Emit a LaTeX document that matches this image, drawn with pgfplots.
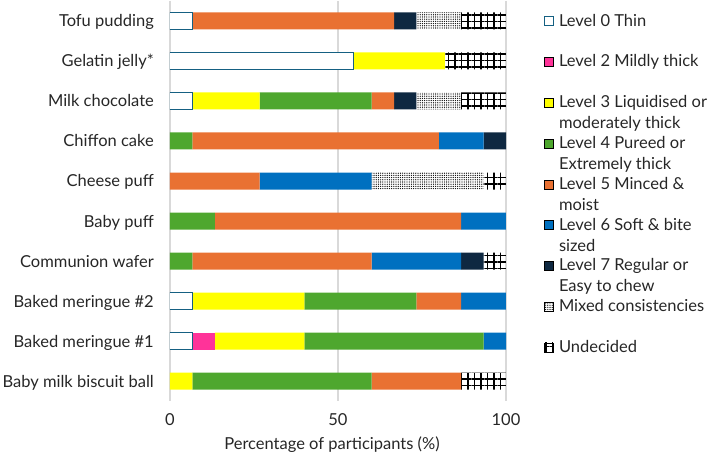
\documentclass[border=0pt]{standalone}
\usepackage{fontspec}
\setmainfont{Lato}
\usepackage{pgfplots}
\usepackage{pgfplotstable}
\pgfplotsset{compat=1.18}
\usetikzlibrary{patterns.meta}

\definecolor{lzero}{HTML}{156082}
\definecolor{ltwo}{HTML}{FF3399}
\definecolor{lthree}{HTML}{FFFF00}
\definecolor{lfour}{HTML}{4EA72E}
\definecolor{lfive}{HTML}{E97132}
\definecolor{lsix}{HTML}{0070C0}
\definecolor{lseven}{HTML}{0E2841}
\definecolor{gridc}{HTML}{D9D9D9}
\definecolor{txt}{HTML}{262626}

\newcommand\myfont{\fontsize{16.5bp}{20bp}\selectfont}
\newcommand\entt[2]{\parbox[t]{170bp}{\baselineskip=21bp #1\newline #2}}

\pgfplotstableread{
y L0 L2 L3 L4 L5 L6 L7 Mix Und
0 6.67 0 0 0 60 0 6.67 13.33 13.33
1 54.55 0 27.27 0 0 0 0 0 18.18
2 6.67 0 20 33.33 6.67 0 6.67 13.33 13.33
3 0 0 0 6.67 73.33 13.33 6.67 0 0
4 0 0 0 0 26.67 33.33 0 33.33 6.67
5 0 0 0 13.33 73.33 13.33 0 0 0
6 0 0 0 6.67 53.33 26.67 6.67 0 6.67
7 6.67 0 33.33 33.33 13.33 13.33 0 0 0
8 6.67 6.67 26.67 53.33 0 6.67 0 0 0
9 0 0 6.67 53.33 26.67 0 0 0 13.33
}\data

\begin{document}
\begin{tikzpicture}
\path[use as bounding box] (-170bp,-56bp) rectangle (539bp,401bp);
\begin{axis}[
  scale only axis, width=336bp, height=400bp,
  xbar stacked, bar width=17bp,
  xmin=0, xmax=100, ymin=-0.5, ymax=9.5, y dir=reverse,
  ytick={0,...,9},
  yticklabels={Tofu pudding, Gelatin jelly*, Milk chocolate, Chiffon cake, Cheese puff, Baby puff, Communion wafer, Baked meringue \#2, Baked meringue \#1, Baby milk biscuit ball},
  xtick={0,50,100},
  axis line style={draw=none}, major tick length=0pt,
  xmajorgrids, grid style={gridc, line width=1.2bp},
  tick label style={font=\myfont, text=txt},
  /pgf/number format/assume math mode=true,
  yticklabel style={inner sep=0pt, anchor=base east, xshift=-16bp, yshift=-6bp},
  xticklabel style={inner sep=0pt, anchor=north, yshift=-12bp},
  xlabel={Percentage of participants (\%)},
  xlabel style={font=\myfont, text=txt, inner sep=0pt, at={(axis description cs:0.5,0)}, anchor=base, yshift=-48bp, xshift=-6bp},
  legend style={at={(1,1)}, anchor=north west, xshift=38bp, yshift=-13bp, draw=none, fill=none, inner sep=0pt, outer sep=0pt, row sep=28.8bp, column sep=5bp, font=\myfont, text=txt, cells={anchor=base west}, nodes={inner sep=0pt, text height=12bp, text depth=0pt}},
  myleg/.style={legend image code/.code={\draw[##1] (0.5bp,0.5bp) rectangle (9.5bp,9.5bp);}},
]
\addplot[fill=white, draw=lzero, line width=1bp, myleg] table[x=L0,y=y]{\data};
\addlegendentry{Level 0 Thin}
\addplot[fill=ltwo, draw=none, myleg] table[x=L2,y=y]{\data};
\addlegendentry{Level 2 Mildly thick}
\addplot[fill=lthree, draw=none, myleg] table[x=L3,y=y]{\data};
\addlegendentry{\entt{Level 3 Liquidised or}{moderately thick}}
\addplot[fill=lfour, draw=none, myleg] table[x=L4,y=y]{\data};
\addlegendentry{\entt{Level 4 Pureed or}{Extremely thick}}
\addplot[fill=lfive, draw=none, myleg] table[x=L5,y=y]{\data};
\addlegendentry{\entt{Level 5 Minced \&}{moist}}
\addplot[fill=lsix, draw=none, myleg] table[x=L6,y=y]{\data};
\addlegendentry{\entt{Level 6 Soft \& bite}{sized}}
\addplot[fill=lseven, draw=none, myleg] table[x=L7,y=y]{\data};
\addlegendentry{\entt{Level 7 Regular or}{Easy to chew}}
\addplot[draw=none, pattern={Dots[distance=2.2bp, radius=0.65bp]}, pattern color=black, myleg] table[x=Mix,y=y]{\data};
\addlegendentry{Mixed consistencies}
\addplot[draw=none, pattern={Hatch[distance=6.5bp, line width=1.3bp]}, pattern color=black, myleg] table[x=Und,y=y]{\data};
\addlegendentry{Undecided}
\end{axis}
\end{tikzpicture}
\end{document}
